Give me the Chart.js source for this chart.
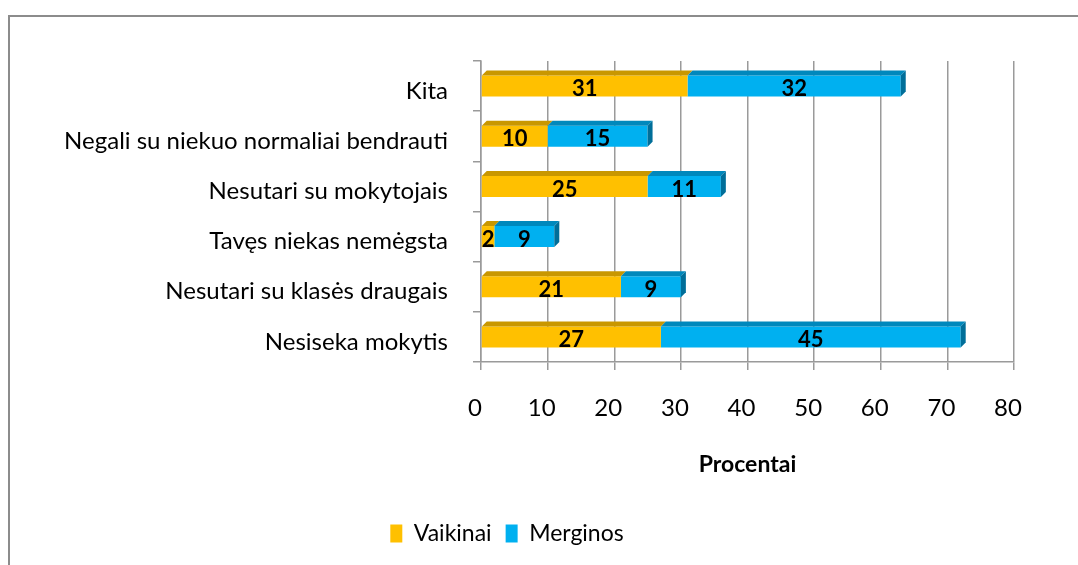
<!DOCTYPE html>
<html lang="lt">
<head>
  <meta charset="UTF-8">
  <title>Procentai</title>
  <script src="https://cdn.jsdelivr.net/npm/chart.js"></script>
  <style>
    html, body { margin: 0; padding: 0; background: #fff; overflow: hidden; }
    .wrap { position: relative; width: 1078px; height: 565px; }
    .frame { position: absolute; left: 8px; top: 15px; width: 1100px; height: 600px; border: 2px solid #8c8c8c; box-sizing: border-box; }
    canvas { position: absolute; left: 0; top: 0; }
  </style>
</head>
<body>
<div class="wrap">
  <div class="frame"></div>
  <canvas id="chart" width="1078" height="565"></canvas>
</div>
<script>
  // kategorijos (is virsaus i apacia)
  const labels = ["Kita", "Negali su niekuo normaliai bendrauti", "Nesutari su mokytojais", "Tavęs niekas nemėgsta", "Nesutari su klasės draugais", "Nesiseka mokytis"];
  const vaikinai = [31, 10, 25, 2, 21, 27];
  const merginos = [32, 15, 11, 9, 9, 45];
  const xTicks = [0, 10, 20, 30, 40, 50, 60, 70, 80];

  const fontFamily = "Lato, 'Open Sans', sans-serif";

  // 3D virsus ir sonas + skaiciai ant stulpeliu
  const barExtras = {
    id: 'barExtras',
    afterDatasetsDraw(chart) {
      const ctx = chart.ctx;
      const d = 5;
      const last = chart.data.datasets.length - 1;
      ctx.save();
      chart.data.datasets.forEach((ds, i) => {
        const meta = chart.getDatasetMeta(i);
        meta.data.forEach((bar, j) => {
          const p = bar.getProps(['x', 'y', 'base', 'height'], true);
          const top = p.y - p.height / 2;
          ctx.fillStyle = ds.topColor;
          ctx.beginPath();
          ctx.moveTo(p.base, top);
          ctx.lineTo(p.x, top);
          ctx.lineTo(p.x + d, top - d);
          ctx.lineTo(p.base + d, top - d);
          ctx.closePath();
          ctx.fill();
          if (i === last) {
            ctx.fillStyle = ds.sideColor;
            ctx.beginPath();
            ctx.moveTo(p.x, top);
            ctx.lineTo(p.x + d, top - d);
            ctx.lineTo(p.x + d, top + p.height - d);
            ctx.lineTo(p.x, top + p.height);
            ctx.closePath();
            ctx.fill();
          }
        });
      });
      ctx.fillStyle = '#000';
      ctx.font = "bold 22px " + fontFamily;
      ctx.textAlign = 'center';
      ctx.textBaseline = 'middle';
      chart.data.datasets.forEach((ds, i) => {
        const meta = chart.getDatasetMeta(i);
        meta.data.forEach((bar, j) => {
          const p = bar.getProps(['x', 'y', 'base'], true);
          ctx.fillText(ds.data[j], (p.x + p.base) / 2, p.y + 3);
        });
      });
      ctx.restore();
    }
  };

  const ctx = document.getElementById('chart').getContext('2d');
  new Chart(ctx, {
    type: 'bar',
    data: {
      labels: labels,
      datasets: [
        { label: 'Vaikinai', data: vaikinai, backgroundColor: '#FFC000', topColor: '#C99700', sideColor: '#B88A00' },
        { label: 'Merginos', data: merginos, backgroundColor: '#00B0F0', topColor: '#0088BC', sideColor: '#006E99' }
      ]
    },
    options: {
      indexAxis: 'y',
      responsive: false,
      animation: false,
      categoryPercentage: 1,
      barPercentage: 0.42,
      layout: { padding: { top: 61, right: 64, left: 0, bottom: 10 } },
      plugins: {
        legend: {
          position: 'bottom',
          labels: {
            font: { family: fontFamily, size: 23 },
            color: '#000',
            boxWidth: 12,
            boxHeight: 18,
            padding: 14
          }
        },
        tooltip: { enabled: false }
      },
      scales: {
        x: {
          stacked: true,
          min: 0,
          max: 80,
          afterBuildTicks: (scale) => { scale.ticks = xTicks.map(v => ({ value: v })); },
          afterFit: (scale) => { scale.height = 146; },
          grid: { color: '#9a9a9a', lineWidth: 1.5, tickLength: 8, drawTicks: true },
          border: { color: '#9a9a9a', width: 1.5 },
          ticks: {
            color: '#000',
            font: { family: fontFamily, size: 24 },
            padding: 24,
            labelOffset: -6
          },
          title: {
            display: true,
            text: 'Procentai',
            color: '#000',
            font: { family: fontFamily, size: 23, weight: 'bold' },
            padding: { top: 0, bottom: 30 }
          }
        },
        y: {
          stacked: true,
          afterFit: (scale) => { scale.width = 481; },
          grid: { offset: true, drawOnChartArea: false, drawTicks: true, tickLength: 8, color: '#9a9a9a', lineWidth: 1.5 },
          border: { color: '#9a9a9a', width: 1.5 },
          ticks: {
            color: '#000',
            font: { family: fontFamily, size: 24 },
            padding: 25,
            labelOffset: 5
          }
        }
      }
    },
    plugins: [barExtras]
  });
</script>
</body>
</html>
